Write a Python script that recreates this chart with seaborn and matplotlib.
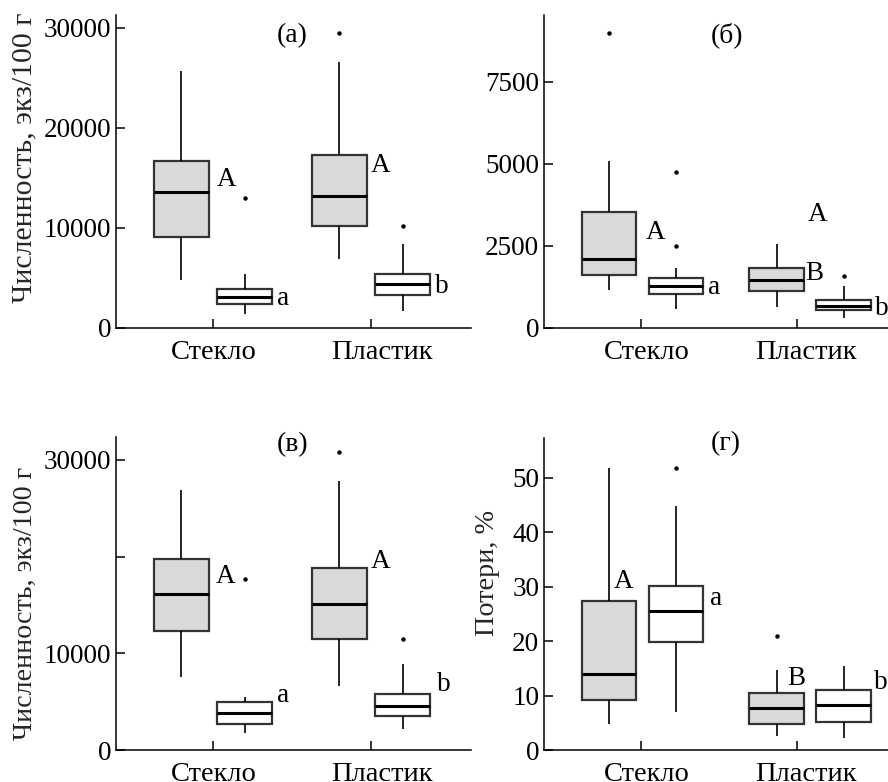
import matplotlib
matplotlib.use("Agg")
import matplotlib.pyplot as plt
import matplotlib.transforms as mtransforms
import seaborn as sns
import pandas as pd

sns.set_theme(style="ticks")
plt.rcParams["font.family"] = ["Liberation Serif", "DejaVu Serif"]

# ---------------- data ----------------
materials = ["Стекло", "Пластик"]
groups = ["I", "II"]          # grey boxes = I, white boxes = II
# box order: (Стекло, I), (Стекло, II), (Пластик, I), (Пластик, II)

# (а) Численность, экз/100 г
a_low = [4770, 1340, 6900, 1700]
a_q1 = [9100, 2340, 10170, 3300]
a_med = [13600, 3100, 13140, 4370]
a_q3 = [16700, 3870, 17270, 5400]
a_high = [25670, 5370, 26570, 8330]
a_out = [[], [13000], [29470], [10170]]

# (б)
b_low = [1151, 571, 641, 287]
b_q1 = [1618, 1029, 1129, 540]
b_med = [2097, 1273, 1456, 671]
b_q3 = [3531, 1508, 1831, 855]
b_high = [5088, 1813, 2545, 1282]
b_out = [[9003], [2493, 4761], [], [1587]]

# (в) Численность, экз/100 г
c_low = [7579, 1789, 6649, 2171]
c_q1 = [12305, 2657, 11446, 3485]
c_med = [16161, 3857, 15065, 4550]
c_q3 = [19749, 4994, 18788, 5821]
c_high = [26884, 5511, 27784, 8861]
c_out = [[], [17650], [30813], [11446]]

# (г) Потери, %
d_low = [4.7, 6.9, 2.6, 2.2]
d_q1 = [9.2, 19.8, 4.8, 5.2]
d_med = [14.0, 25.6, 7.7, 8.2]
d_q3 = [27.4, 30.2, 10.5, 11.0]
d_high = [51.9, 44.9, 14.7, 15.5]
d_out = [[], [51.8], [21.0], []]

# significance letters
a_letters = ["A", "a", "A", "b"]
a_lx = [0.025, 0.405, 1.0, 1.405]
a_ly = [14200, 2270, 15540, 3440]
b_letters = ["A", "a", "A", "B", "b"]
b_lx = [0.019, 0.393, 0.986, 0.972, 1.388]
b_ly = [2707, 1029, 3266, 1456, 388]
c_letters = ["A", "a", "A", "b"]
c_lx = [0.017, 0.402, 0.998, 1.417]
c_ly = [17237, 4932, 18850, 6132]
d_letters = ["A", "a", "B", "b"]
d_lx = [-0.174, 0.403, 0.864, 1.382]
d_ly = [29.75, 26.73, 11.96, 11.17]

panel_titles = ["(а)", "(б)", "(в)", "(г)"]
title_xy = [(0.50, 28600), (0.503, 8729), (0.503, 30948), (0.499, 55.2)]

ylabel_count = "Численность, экз/100 г"
ylabel_loss = "Потери, %"


def box_frame(low, q1, med, q3, high, out):
    """Long-form table whose quartiles/whiskers/outliers equal the read values."""
    rows = []
    k = 0
    for m in materials:
        for g in groups:
            extra = sorted(out[k])
            top = [high[k]] * (3 - len(extra)) + extra
            vals = [low[k]] + [q1[k]] * 3 + [med[k]] * 3 + [q3[k]] * 3 + top
            rows += [(m, g, v) for v in vals]
            k += 1
    return pd.DataFrame(rows, columns=["Материал", "Группа", "value"])


panels = [
    dict(df=box_frame(a_low, a_q1, a_med, a_q3, a_high, a_out),
         letters=(a_letters, a_lx, a_ly)),
    dict(df=box_frame(b_low, b_q1, b_med, b_q3, b_high, b_out),
         letters=(b_letters, b_lx, b_ly)),
    dict(df=box_frame(c_low, c_q1, c_med, c_q3, c_high, c_out),
         letters=(c_letters, c_lx, c_ly)),
    dict(df=box_frame(d_low, d_q1, d_med, d_q3, d_high, d_out),
         letters=(d_letters, d_lx, d_ly)),
]

# ---------------- layout ----------------
W, H = 888, 782
fig = plt.figure(figsize=(W / 100, H / 100), dpi=100)


def rect(left, top, right, bottom):
    return [left / W, 1 - bottom / H, (right - left) / W, (bottom - top) / H]


rects = [rect(116, 15, 471, 327.7), rect(544, 15, 899, 327.7),
         rect(116, 437, 471, 750), rect(544, 438, 899, 750)]
xlims = [(-0.614, 1.633), (-0.588, 1.531), (-0.614, 1.633), (-0.588, 1.531)]
xtick_pos = [[0, 1], [-0.01, 0.92], [0, 1], [-0.01, 0.92]]
xlabel_shift_px = [[1, 11], [6, 9], [1, 11], [6, 9]]
gaps = [0.13, 0.19, 0.13, 0.19]
ylims = [(0, 31270), (0, 9544), (0, 32370), (0, 57.35)]
yticks = [[0, 10000, 20000, 30000], [0, 2500, 5000, 7500],
          [0, 10000, 20000, 30000], [0, 10, 20, 30, 40, 50]]
yticklabels = [["0", "10000", "20000", "30000"], ["0", "2500", "5000", "7500"],
               ["0", "10000", "", "30000"], ["0", "10", "20", "30", "40", "50"]]
ylabels = [ylabel_count, "", ylabel_count, ylabel_loss]
ylabel_pos = [(-0.258, 0.542), None, (-0.256, 0.468), (-0.160, 0.566)]
ylabel_fs = [21.5, 20, 20.2, 20.3]

FS_YT = 19.5
FS_XT = 20.5
FS_TXT = 19.5
FS_TITLE = 20
palette = {"I": "#d9d9d9", "II": "#ffffff"}

for i, p in enumerate(panels):
    ax = fig.add_axes(rects[i])
    sns.boxplot(
        data=p["df"], x="Материал", y="value", hue="Группа",
        order=materials, hue_order=groups, palette=palette, saturation=1,
        width=0.8, gap=gaps[i], whis=1.5, showcaps=False, legend=False,
        linecolor="black", linewidth=1.3,
        boxprops=dict(edgecolor="#333333", linewidth=1.6),
        medianprops=dict(color="black", linewidth=2.2),
        whiskerprops=dict(color="black", linewidth=1.2),
        flierprops=dict(marker="o", markersize=2.2, markerfacecolor="black",
                        markeredgecolor="black"),
        ax=ax,
    )
    ax.set_xlim(*xlims[i])
    ax.set_ylim(*ylims[i])
    ax.set_xticks(xtick_pos[i])
    ax.set_xticklabels(materials)
    ax.set_yticks(yticks[i])
    ax.set_yticklabels(yticklabels[i])
    ax.set_xlabel("")
    ax.set_ylabel(ylabels[i], fontsize=ylabel_fs[i])
    if ylabel_pos[i] is not None:
        ax.yaxis.label.set_verticalalignment("center")
        ax.yaxis.set_label_coords(*ylabel_pos[i])
    sns.despine(ax=ax)
    for s in ("left", "bottom"):
        ax.spines[s].set_linewidth(1.1)
        ax.spines[s].set_color("black")
    ax.tick_params(axis="both", direction="in", length=6.5, width=1.1,
                   color="black", labelcolor="black")
    ax.tick_params(axis="x", pad=8.5, labelsize=FS_XT)
    ax.tick_params(axis="y", pad=3.5, labelsize=FS_YT)
    for lab, dx in zip(ax.get_xticklabels(), xlabel_shift_px[i]):
        lab.set_transform(lab.get_transform() + mtransforms.ScaledTranslation(
            dx / 100, 0, fig.dpi_scale_trans))
    labs, lx, ly = p["letters"]
    for t, x, y in zip(labs, lx, ly):
        ax.text(x, y, t, fontsize=FS_TXT, ha="left", va="baseline", color="black")
    tx, ty = title_xy[i]
    ax.text(tx, ty, panel_titles[i], fontsize=FS_TITLE, ha="center",
            va="baseline", color="black")
    ax.set_facecolor("white")

fig.savefig("out.png", dpi=100, facecolor="white")
